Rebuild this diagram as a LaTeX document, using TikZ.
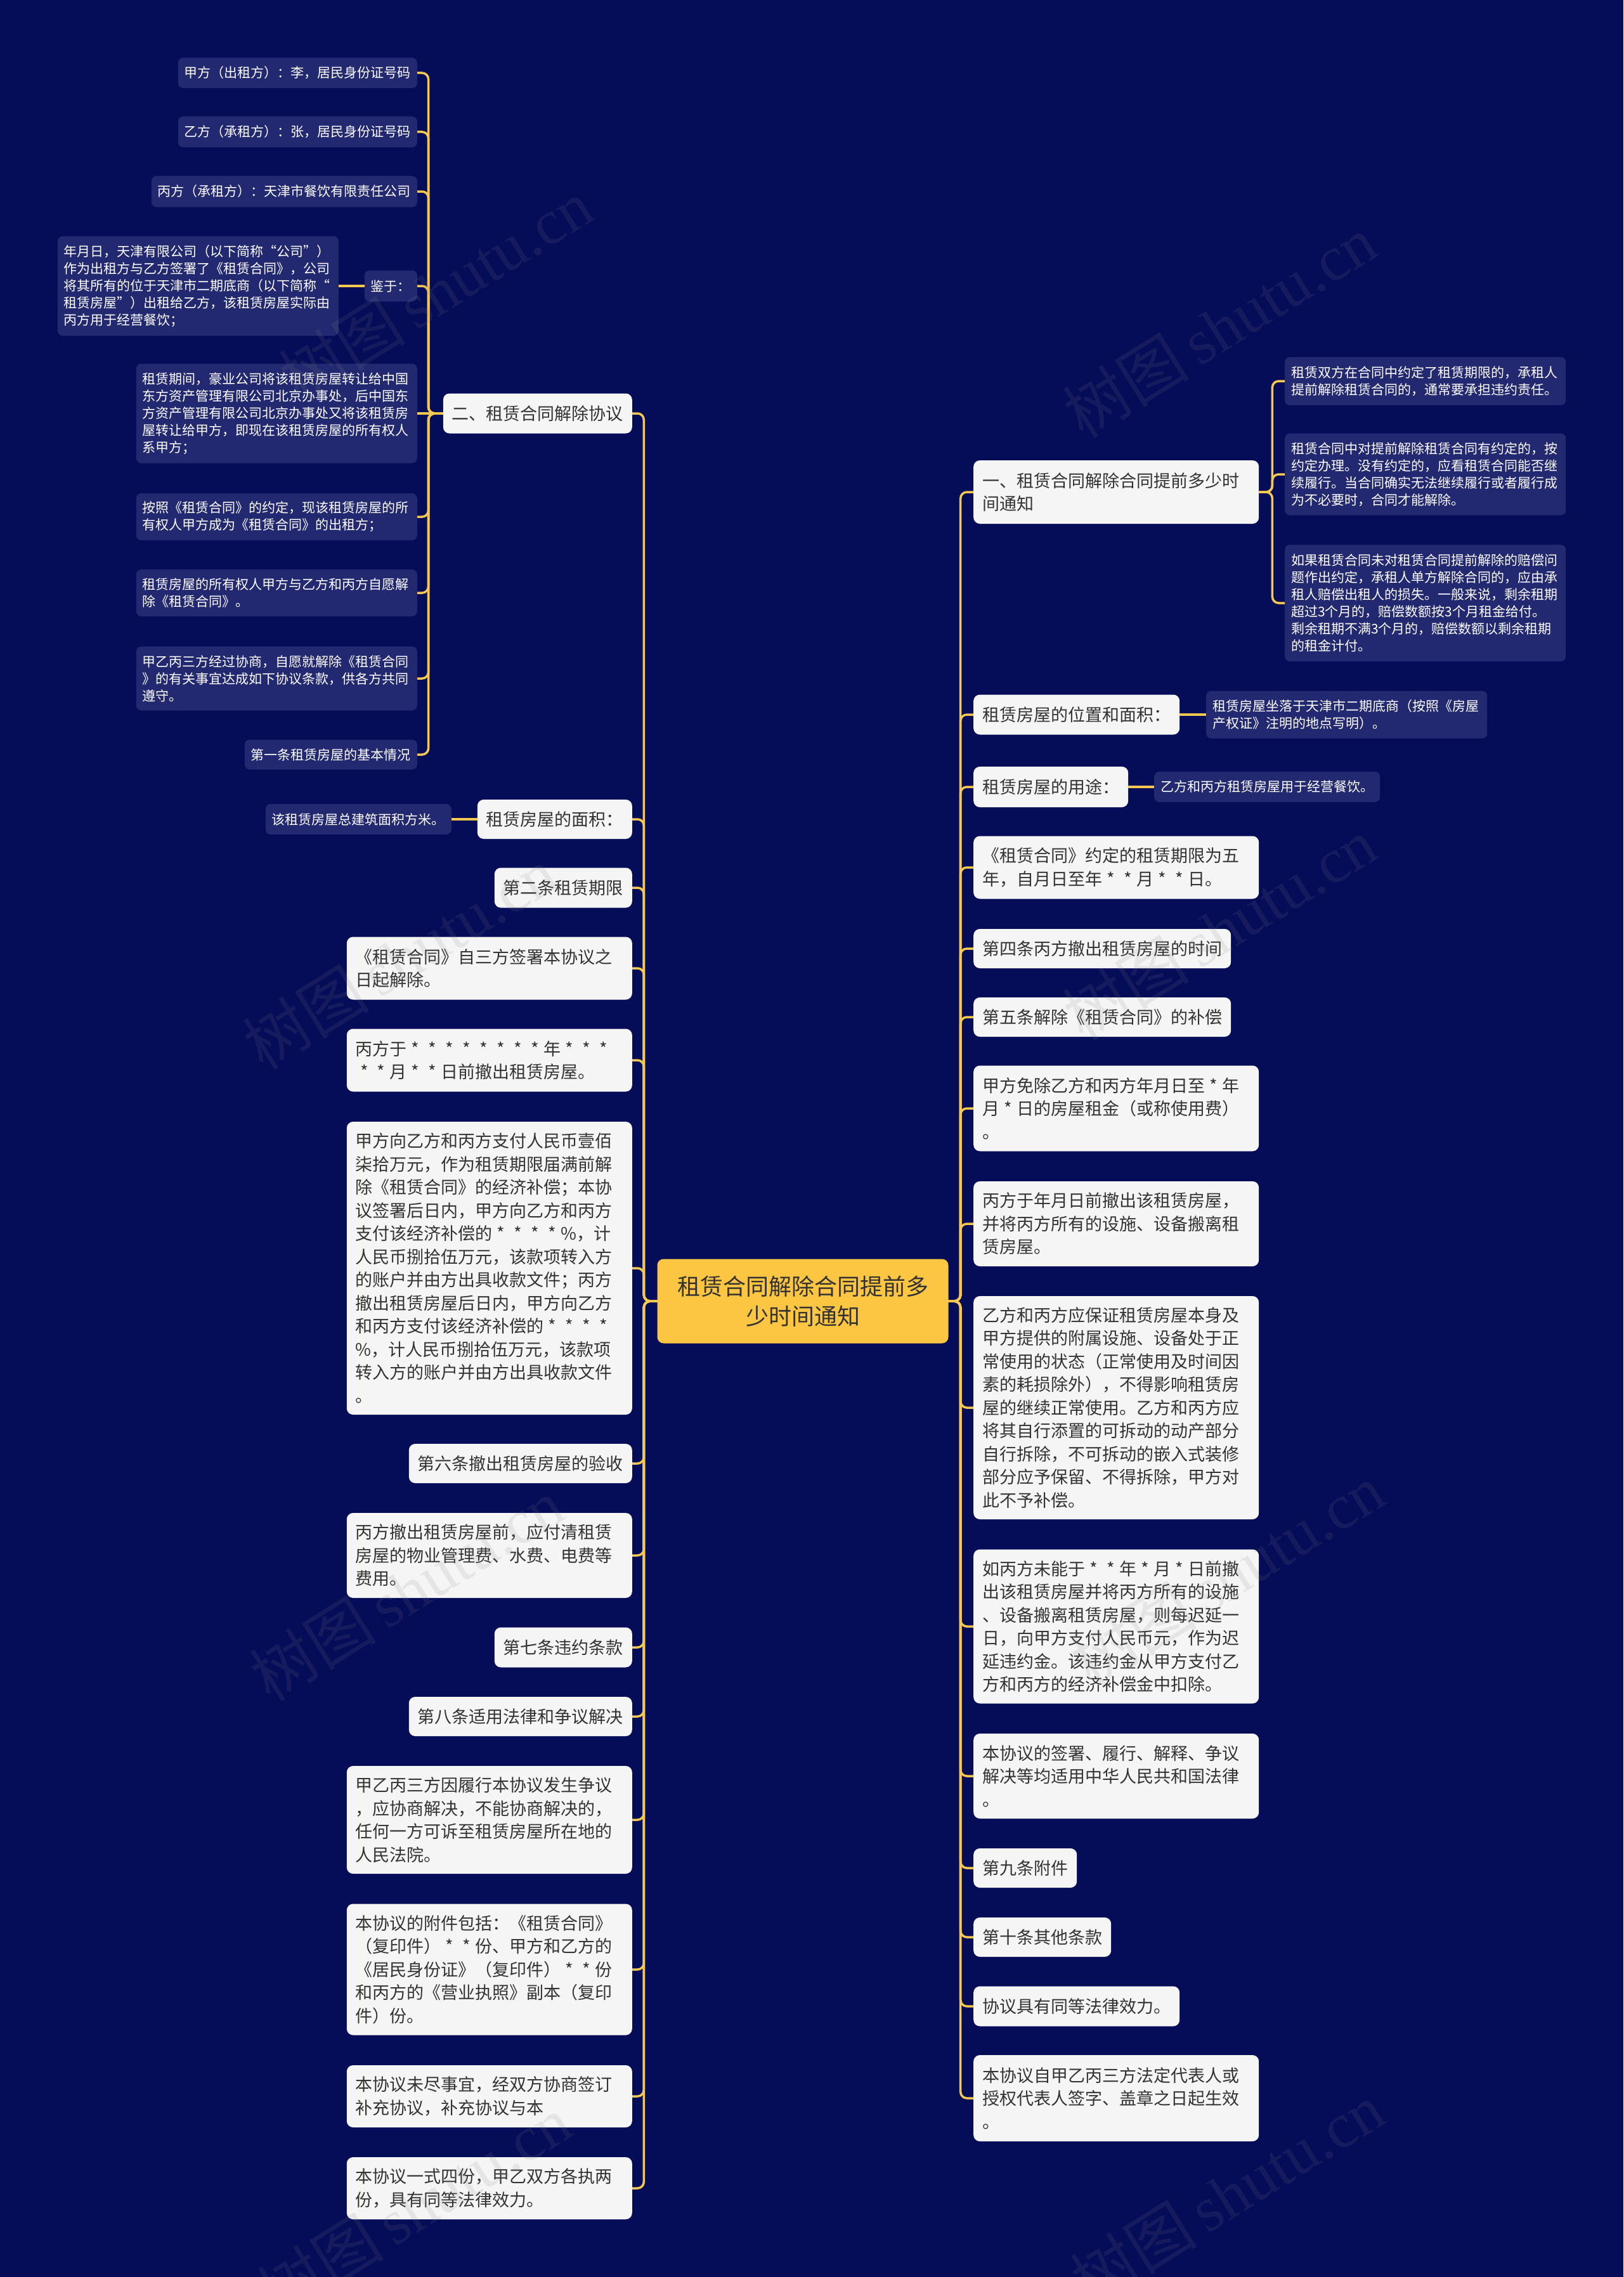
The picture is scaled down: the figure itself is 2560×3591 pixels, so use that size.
\documentclass[tikz,border=0pt]{standalone}
\usepackage{fontspec}
\setmainfont{Noto Sans CJK SC}
\newfontfamily\wmserif{Liberation Serif}
\setlength{\parindent}{0pt}
\newcommand{\xing}{\makebox[1em][c]{*}}
\definecolor{bgc}{RGB}{6,13,88}
\definecolor{dfill}{RGB}{35,41,112}
\definecolor{wfill}{RGB}{245,245,245}
\definecolor{wtext}{RGB}{51,51,51}
\definecolor{rootc}{RGB}{252,198,66}
\definecolor{gold}{RGB}{245,200,80}
\begin{document}
\begin{tikzpicture}[x=1pt,y=-1pt,
  wbox/.style={fill=wfill, text=wtext, rounded corners=10, inner xsep=14, inner ysep=0, font=\fontsize{27}{36.5}\selectfont, align=left},
  wmulti/.style={wbox, text width=422},
  dbox/.style={fill=dfill, text=white, rounded corners=8, inner xsep=10, inner ysep=0, font=\fontsize{21}{27}\selectfont, align=left},
  dmulti/.style={dbox, text width=423},
  rootbox/.style={fill=rootc, text=wtext, rounded corners=10, inner sep=0, font=\fontsize{36}{47}\selectfont, align=center, minimum width=459, minimum height=133},
  conn/.style={draw=gold, line width=3.5, rounded corners=10},
  wmark/.style={rotate=32, text=gray, opacity=0.13, font=\fontsize{100}{100}\selectfont}]
\useasboundingbox (0,0) rectangle (2560,3591);
\fill[bgc] (0,0) rectangle (2560,3591);

% root
\node[rootbox] (root) at (1266,2052) {租赁合同解除合同提前多\\少时间通知};

% ---------- left level 1 ----------
\node[wbox, anchor=east, minimum height=63] (L1) at (997,652) {二、租赁合同解除协议};
\node[wbox, anchor=east, minimum height=62] (L2) at (997,1292) {租赁房屋的面积：};
\node[wbox, anchor=east, minimum height=63] (L3) at (997,1400) {第二条租赁期限};
\node[wmulti, anchor=east, minimum height=99] (L4) at (997,1527) {《租赁合同》自三方签署本协议之\\日起解除。};
\node[wmulti, anchor=east, minimum height=99] (L5) at (997,1672) {丙方于\xing\xing\xing\xing\xing\xing\xing\xing 年\xing\xing\xing\\\xing\xing 月\xing\xing 日前撤出租赁房屋。};
\node[wmulti, anchor=east, minimum height=462] (L6) at (997,2000) {甲方向乙方和丙方支付人民币壹佰\\柒拾万元，作为租赁期限届满前解\\除《租赁合同》的经济补偿；本协\\议签署后日内，甲方向乙方和丙方\\支付该经济补偿的\xing\xing\xing\xing\%，计\\人民币捌拾伍万元，该款项转入方\\的账户并由方出具收款文件；丙方\\撤出租赁房屋后日内，甲方向乙方\\和丙方支付该经济补偿的\xing\xing\xing\xing\\\%，计人民币捌拾伍万元，该款项\\转入方的账户并由方出具收款文件\\。};
\node[wbox, anchor=east, minimum height=62] (L7) at (997,2308) {第六条撤出租赁房屋的验收};
\node[wmulti, anchor=east, minimum height=134] (L8) at (997,2453) {丙方撤出租赁房屋前，应付清租赁\\房屋的物业管理费、水费、电费等\\费用。};
\node[wbox, anchor=east, minimum height=63] (L9) at (997,2598) {第七条违约条款};
\node[wbox, anchor=east, minimum height=62] (L10) at (997,2707) {第八条适用法律和争议解决};
\node[wmulti, anchor=east, minimum height=170] (L11) at (997,2870) {甲乙丙三方因履行本协议发生争议\\，应协商解决，不能协商解决的，\\任何一方可诉至租赁房屋所在地的\\人民法院。};
\node[wmulti, anchor=east, minimum height=207] (L12) at (997,3106) {本协议的附件包括：《租赁合同》\\（复印件）\xing\xing 份、甲方和乙方的\\《居民身份证》（复印件）\xing\xing 份\\和丙方的《营业执照》副本（复印\\件）份。};
\node[wmulti, anchor=east, minimum height=98] (L13) at (997,3306) {本协议未尽事宜，经双方协商签订\\补充协议，补充协议与本};
\node[wmulti, anchor=east, minimum height=98] (L14) at (997,3451) {本协议一式四份，甲乙双方各执两\\份，具有同等法律效力。};

% ---------- left level 2 ----------
\node[dbox, anchor=east, minimum height=48] (D1) at (658,115) {甲方（出租方）：李，居民身份证号码};
\node[dbox, anchor=east, minimum height=49] (D2) at (658,208) {乙方（承租方）：张，居民身份证号码};
\node[dbox, anchor=east, minimum height=49] (D3) at (658,302) {丙方（承租方）：天津市餐饮有限责任公司};
\node[dbox, anchor=east, minimum height=49] (D4) at (658,451) {鉴于：};
\node[dmulti, anchor=east, minimum height=157] (D4a) at (534,451) {年月日，天津有限公司（以下简称“公司”）\\作为出租方与乙方签署了《租赁合同》，公司\\将其所有的位于天津市二期底商（以下简称“\\租赁房屋”）出租给乙方，该租赁房屋实际由\\丙方用于经营餐饮；};
\node[dmulti, anchor=east, minimum height=157] (D5) at (658,652) {租赁期间，豪业公司将该租赁房屋转让给中国\\东方资产管理有限公司北京办事处，后中国东\\方资产管理有限公司北京办事处又将该租赁房\\屋转让给甲方，即现在该租赁房屋的所有权人\\系甲方；};
\node[dmulti, anchor=east, minimum height=74] (D6) at (658,815) {按照《租赁合同》的约定，现该租赁房屋的所\\有权人甲方成为《租赁合同》的出租方；};
\node[dmulti, anchor=east, minimum height=74] (D7) at (658,935) {租赁房屋的所有权人甲方与乙方和丙方自愿解\\除《租赁合同》。};
\node[dmulti, anchor=east, minimum height=101] (D8) at (658,1070) {甲乙丙三方经过协商，自愿就解除《租赁合同\\》的有关事宜达成如下协议条款，供各方共同\\遵守。};
\node[dbox, anchor=east, minimum height=47] (D9) at (658,1190) {第一条租赁房屋的基本情况};
\node[dbox, anchor=east, minimum height=48] (L2a) at (712,1292) {该租赁房屋总建筑面积方米。};

% ---------- right level 1 ----------
\node[wmulti, anchor=west, minimum height=100] (R1) at (1535,776) {一、租赁合同解除合同提前多少时\\间通知};
\node[wbox, anchor=west, minimum height=63] (R2) at (1535,1127) {租赁房屋的位置和面积：};
\node[wbox, anchor=west, minimum height=64] (R3) at (1535,1241) {租赁房屋的用途：};
\node[wmulti, anchor=west, minimum height=99] (R4) at (1535,1368) {《租赁合同》约定的租赁期限为五\\年，自月日至年\xing\xing 月\xing\xing 日。};
\node[wbox, anchor=west, minimum height=62] (R5) at (1535,1496) {第四条丙方撤出租赁房屋的时间};
\node[wbox, anchor=west, minimum height=62] (R6) at (1535,1604) {第五条解除《租赁合同》的补偿};
\node[wmulti, anchor=west, minimum height=135] (R7) at (1535,1748) {甲方免除乙方和丙方年月日至\xing 年\\月\xing 日的房屋租金（或称使用费）\\。};
\node[wmulti, anchor=west, minimum height=134] (R8) at (1535,1930) {丙方于年月日前撤出该租赁房屋，\\并将丙方所有的设施、设备搬离租\\赁房屋。};
\node[wmulti, anchor=west, minimum height=352] (R9) at (1535,2220) {乙方和丙方应保证租赁房屋本身及\\甲方提供的附属设施、设备处于正\\常使用的状态（正常使用及时间因\\素的耗损除外），不得影响租赁房\\屋的继续正常使用。乙方和丙方应\\将其自行添置的可拆动的动产部分\\自行拆除，不可拆动的嵌入式装修\\部分应予保留、不得拆除，甲方对\\此不予补偿。};
\node[wmulti, anchor=west, minimum height=243] (R10) at (1535,2565) {如丙方未能于\xing\xing 年\xing 月\xing 日前撤\\出该租赁房屋并将丙方所有的设施\\、设备搬离租赁房屋，则每迟延一\\日，向甲方支付人民币元，作为迟\\延违约金。该违约金从甲方支付乙\\方和丙方的经济补偿金中扣除。};
\node[wmulti, anchor=west, minimum height=134] (R11) at (1535,2801) {本协议的签署、履行、解释、争议\\解决等均适用中华人民共和国法律\\。};
\node[wbox, anchor=west, minimum height=62] (R12) at (1535,2946) {第九条附件};
\node[wbox, anchor=west, minimum height=62] (R13) at (1535,3055) {第十条其他条款};
\node[wbox, anchor=west, minimum height=63] (R14) at (1535,3164) {协议具有同等法律效力。};
\node[wmulti, anchor=west, minimum height=136] (R15) at (1535,3309) {本协议自甲乙丙三方法定代表人或\\授权代表人签字、盖章之日起生效\\。};

% ---------- right level 2 ----------
\node[dmulti, anchor=west, minimum height=76] (R1a) at (2026,601) {租赁双方在合同中约定了租赁期限的，承租人\\提前解除租赁合同的，通常要承担违约责任。};
\node[dmulti, anchor=west, minimum height=129] (R1b) at (2026,748) {租赁合同中对提前解除租赁合同有约定的，按\\约定办理。没有约定的，应看租赁合同能否继\\续履行。当合同确实无法继续履行或者履行成\\为不必要时，合同才能解除。};
\node[dmulti, anchor=west, minimum height=184] (R1c) at (2026,951) {如果租赁合同未对租赁合同提前解除的赔偿问\\题作出约定，承租人单方解除合同的，应由承\\租人赔偿出租人的损失。一般来说，剩余租期\\超过3个月的，赔偿数额按3个月租金给付。\\剩余租期不满3个月的，赔偿数额以剩余租期\\的租金计付。};
\node[dmulti, anchor=west, minimum height=75] (R2a) at (1902,1127) {租赁房屋坐落于天津市二期底商（按照《房屋\\产权证》注明的地点写明）。};
\node[dbox, anchor=west, minimum height=48] (R3a) at (1820,1241) {乙方和丙方租赁房屋用于经营餐饮。};

% ---------- connectors ----------
\foreach \c in {L1,L2,L3,L4,L5,L6,L7,L8,L9,L10,L11,L12,L13,L14}
  \draw[conn] (root.west) -- ++(-21,0) |- (\c.east);
\foreach \c in {R1,R2,R3,R4,R5,R6,R7,R8,R9,R10,R11,R12,R13,R14,R15}
  \draw[conn] (root.east) -- ++(19,0) |- (\c.west);
\foreach \c in {D1,D2,D3,D4,D6,D7,D8,D9}
  \draw[conn] (L1.west) -- ++(-23,0) |- (\c.east);
\draw[conn] (L1.west) -- (D5.east);
\draw[conn] (D4.west) -- (D4a.east);
\draw[conn] (L2.west) -- (L2a.east);
\foreach \c in {R1a,R1b,R1c}
  \draw[conn] (R1.east) -- ++(21,0) |- (\c.west);
\draw[conn] (R2.east) -- (R2a.west);
\draw[conn] (R3.east) -- (R3a.west);

% ---------- watermark ----------
\foreach \x/\y [count=\i] in {687/458, 1923/515, 630/1511, 1923/1465, 641/2507, 1935/2484, 653/3480, 1935/3460}
  \node[wmark] (wm\i) at (\x,\y) {树图\,{\wmserif shutu.cn}};
\end{tikzpicture}
\end{document}
